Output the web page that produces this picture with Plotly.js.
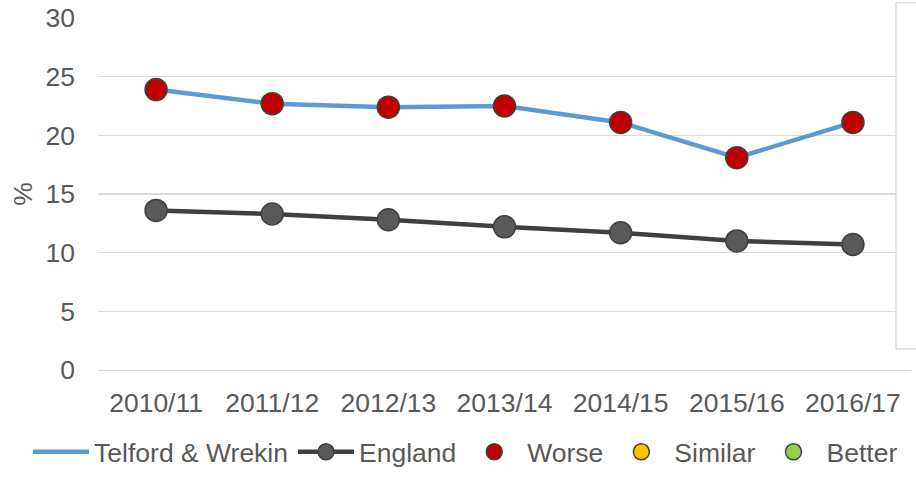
<!DOCTYPE html>
<html>
<head>
<meta charset="utf-8">
<script src="https://cdn.plot.ly/plotly-3.0.1.min.js"></script>
<style>html,body{margin:0;padding:0;background:#fff;}#chart{width:916px;height:483px;}</style>
</head>
<body>
<div id="chart"></div>
<script>
var categories = ["2010/11","2011/12","2012/13","2013/14","2014/15","2015/16","2016/17"];
var telford = [23.9, 22.7, 22.4, 22.5, 21.1, 18.1, 21.1];
var england = [13.6, 13.3, 12.8, 12.2, 11.7, 11.0, 10.7];
var worse = [23.9, 22.7, 22.4, 22.5, 21.1, 18.1, 21.1];
var similar = [null, null, null, null, null, null, null];
var better = [null, null, null, null, null, null, null];
var yTicks = [0, 5, 10, 15, 20, 25, 30];

var FONT = '"Liberation Sans", Arial, sans-serif';
var TXT = '#595959';
var FS = 26.5;

var traces = [
  {x: categories, y: telford, name: 'Telford & Wrekin', type: 'scatter', mode: 'lines',
   line: {color: '#5B9BD5', width: 4.5}},
  {x: categories, y: england, name: 'England', type: 'scatter', mode: 'lines+markers',
   line: {color: '#404040', width: 4.5},
   marker: {size: 22, color: '#595959', line: {color: '#404040', width: 1.5}}},
  {x: categories, y: worse, name: 'Worse', type: 'scatter', mode: 'markers',
   marker: {size: 22, color: '#C00000', line: {color: '#404040', width: 1.5}}},
  {x: categories, y: similar, name: 'Similar', type: 'scatter', mode: 'markers',
   marker: {size: 22, color: '#FFC000', line: {color: '#404040', width: 1.5}}},
  {x: categories, y: better, name: 'Better', type: 'scatter', mode: 'markers',
   marker: {size: 22, color: '#92D050', line: {color: '#404040', width: 1.5}}}
];

var layout = {
  width: 916, height: 483,
  margin: {l: 98, r: 5, t: 18, b: 113},
  paper_bgcolor: '#fff', plot_bgcolor: '#fff',
  font: {family: FONT, size: FS, color: TXT},
  showlegend: true,
  legend: {orientation: 'h', x: -0.086, xanchor: 'left', y: -0.165, yanchor: 'top',
           font: {family: FONT, size: FS, color: TXT}, itemwidth: 56, tracegroupgap: 0},
  xaxis: {type: 'category', range: [-0.5, 6.5], showgrid: false, zeroline: false,
          showline: true, linecolor: '#d9d9d9', linewidth: 1.3, ticks: '',
          ticklabelstandoff: 9, tickfont: {family: FONT, size: FS, color: TXT}},
  yaxis: {range: [0, 30], tickvals: yTicks, showgrid: true, gridcolor: '#d9d9d9', gridwidth: 1.3,
          zeroline: false, showline: false, ticks: '', ticklabelstandoff: 22,
          tickfont: {family: FONT, size: FS, color: TXT},
          title: {text: '%', font: {family: FONT, size: FS, color: TXT}, standoff: 5}},
  shapes: [{type: 'rect', xref: 'paper', yref: 'paper', x0: 0.9815, x1: 1.03, y0: 0.0597, y1: 1.0435,
            fillcolor: '#ffffff', line: {color: '#d9d9d9', width: 1.3}, layer: 'above'}]
};

Plotly.newPlot('chart', traces, layout, {displayModeBar: false, staticPlot: true});
</script>
</body>
</html>
